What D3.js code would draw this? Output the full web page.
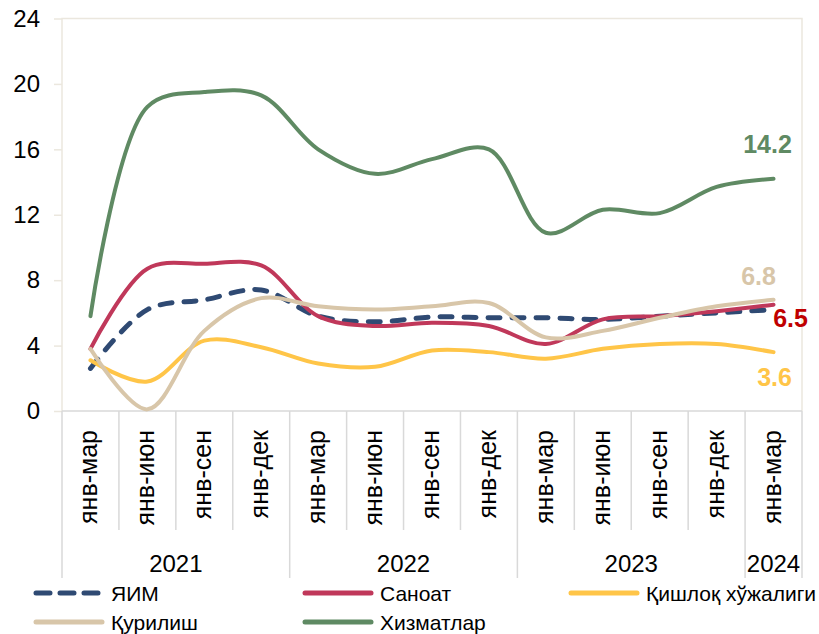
<!DOCTYPE html>
<html>
<head>
<meta charset="utf-8">
<script src="https://cdn.jsdelivr.net/npm/d3@7"></script>
<style>
  body { margin: 0; background: #fff; }
  svg { display: block; font-family: "Liberation Sans", Arial, sans-serif; }
</style>
</head>
<body>
<div class="graph-container"></div>
<script>
// Data
const categories = ['янв-мар', 'янв-июн', 'янв-сен', 'янв-дек',
                    'янв-мар', 'янв-июн', 'янв-сен', 'янв-дек',
                    'янв-мар', 'янв-июн', 'янв-сен', 'янв-дек',
                    'янв-мар'];
const yearLabels = ['2021', '2022', '2023', '2024'];
const yearSpans = [4, 4, 4, 1];
const yTicks = [0, 4, 8, 12, 16, 20, 24];

const yim      = [2.6, 6.2, 6.8, 7.4, 5.8, 5.45, 5.75, 5.7, 5.7, 5.6, 5.8, 6.0, 6.2];
const sanoat   = [3.8, 8.7, 9.0, 8.9, 5.8, 5.2, 5.4, 5.2, 4.1, 5.6, 5.8, 6.1, 6.5];
const qishloq  = [3.1, 1.8, 4.3, 3.9, 2.9, 2.7, 3.7, 3.6, 3.2, 3.8, 4.1, 4.1, 3.6];
const qurilish = [3.8, 0.1, 4.9, 6.9, 6.4, 6.2, 6.4, 6.6, 4.5, 4.9, 5.7, 6.4, 6.8];
const xizmat   = [5.8, 18.6, 19.5, 19.3, 16.0, 14.5, 15.4, 16.0, 10.9, 12.3, 12.1, 13.7, 14.2];

const seriesNames = ['ЯИМ', 'Саноат', 'Қишлоқ хўжалиги', 'Қурилиш', 'Хизматлар'];

let width = 819, height = 634;
let plotLeft = 62, plotRight = 802, plotTop = 18.5, plotBottom = 411;

let series = [
  { name: seriesNames[0], values: yim, color: '#2f4a73', dash: '12 12', w: 5 },
  { name: seriesNames[1], values: sanoat, color: '#c0385a', w: 4 },
  { name: seriesNames[2], values: qishloq, color: '#ffc548', w: 4 },
  { name: seriesNames[3], values: qurilish, color: '#d8c6a9', w: 4 },
  { name: seriesNames[4], values: xizmat, color: '#5f8a63', w: 4 }
];

// End labels, offsets from the last point
let endLabels = [
  { values: xizmat, color: '#5f8a63', dx: -6, dy: -26 },
  { values: qurilish, color: '#d8c6a9', dx: -15, dy: -15 },
  { values: sanoat, color: '#c00000', dx: 17, dy: 22 },
  { values: qishloq, color: '#ffc548', dx: 1, dy: 34 }
];

let svg = d3.select('.graph-container')
            .append('svg')
            .attr('width', width)
            .attr('height', height);

let xScale = d3.scaleBand()
               .domain(d3.range(categories.length))
               .range([plotLeft, plotRight])
               .padding(0);
let bw = xScale.bandwidth();
let cx = i => xScale(i) + bw / 2;

let yScale = d3.scaleLinear()
               .domain([0, 24])
               .range([plotBottom, plotTop]);

// Plot border (light beige)
let border = '#ebe7de';
svg.append('path')
   .attr('d', `M${plotLeft},${plotBottom}V${plotTop}H${plotRight}V${plotBottom}`)
   .attr('fill', 'none')
   .attr('stroke', border)
   .attr('stroke-width', 1.5);

// Y axis
let yAxis = d3.axisLeft(yScale)
              .tickValues(yTicks)
              .tickSize(8)
              .tickSizeOuter(0)
              .tickPadding(14);
let yg = svg.append('g')
            .attr('transform', `translate(${plotLeft},0)`)
            .call(yAxis);
yg.select('.domain').remove();
yg.selectAll('.tick line').attr('stroke', border).attr('stroke-width', 1.5);
yg.selectAll('.tick text')
  .attr('fill', '#000')
  .style('font-size', '24px')
  .style('font-family', '"Liberation Sans", Arial, sans-serif');

// Category axis
let gridGray = '#d9d9d9';
svg.append('line')
   .attr('x1', plotLeft).attr('x2', plotRight)
   .attr('y1', plotBottom).attr('y2', plotBottom)
   .attr('stroke', gridGray).attr('stroke-width', 1.5);

let yearEdges = [0];
yearSpans.forEach(n => yearEdges.push(yearEdges[yearEdges.length - 1] + n));

d3.range(categories.length + 1).forEach(i => {
  let x = i < categories.length ? xScale(i) : plotRight;
  let isYear = yearEdges.includes(i);
  svg.append('line')
     .attr('x1', x).attr('x2', x)
     .attr('y1', plotBottom).attr('y2', isYear ? 578 : 530)
     .attr('stroke', gridGray)
     .attr('stroke-width', 1.5);
});

svg.append('g')
   .selectAll('text')
   .data(categories)
   .join('text')
   .attr('transform', (d, i) => `translate(${cx(i) + 7},430) rotate(-90)`)
   .attr('text-anchor', 'end')
   .style('font-size', '25px')
   .attr('fill', '#000')
   .text(d => d);

svg.append('g')
   .selectAll('text')
   .data(yearLabels)
   .join('text')
   .attr('x', (d, i) => {
     let a = xScale(yearEdges[i]);
     let b = yearEdges[i + 1] < categories.length ? xScale(yearEdges[i + 1]) : plotRight;
     return (a + b) / 2;
   })
   .attr('y', 572)
   .attr('text-anchor', 'middle')
   .style('font-size', '24px')
   .attr('fill', '#000')
   .text(d => d);

// Lines (smoothed, close to Excel's smoothing)
let line = d3.line()
             .x((d, i) => cx(i))
             .y(d => yScale(d))
             .curve(d3.curveCatmullRom.alpha(0.5));

svg.append('g')
   .selectAll('path')
   .data(series)
   .join('path')
   .attr('fill', 'none')
   .attr('stroke', d => d.color)
   .attr('stroke-width', d => d.w)
   .attr('stroke-dasharray', d => d.dash || null)
   .attr('stroke-linecap', 'round')
   .attr('d', d => line(d.values));

// End value labels
let last = categories.length - 1;
svg.append('g')
   .selectAll('text')
   .data(endLabels)
   .join('text')
   .attr('x', d => cx(last) + d.dx)
   .attr('y', d => yScale(d.values[last]) + d.dy)
   .attr('text-anchor', 'middle')
   .attr('font-weight', 'bold')
   .style('font-size', '25px')
   .attr('fill', d => d.color)
   .text(d => d.values[last].toFixed(1));

// Legend
let legendPos = [
  { x: 34, y: 593 }, { x: 303, y: 593 }, { x: 569, y: 593 },
  { x: 34, y: 622 }, { x: 303, y: 622 }
];
let legend = svg.append('g')
                .selectAll('g')
                .data(series)
                .join('g')
                .attr('transform', (d, i) => `translate(${legendPos[i].x},${legendPos[i].y})`);

legend.append('line')
      .attr('x1', 2).attr('x2', 68)
      .attr('y1', 0).attr('y2', 0)
      .attr('stroke', d => d.color)
      .attr('stroke-width', 5)
      .attr('stroke-linecap', 'round')
      .attr('stroke-dasharray', d => d.dash ? '14 10' : null);

legend.append('text')
      .attr('x', 77)
      .attr('y', 8)
      .style('font-size', '21px')
      .attr('fill', '#000')
      .text(d => d.name);
</script>
</body>
</html>
